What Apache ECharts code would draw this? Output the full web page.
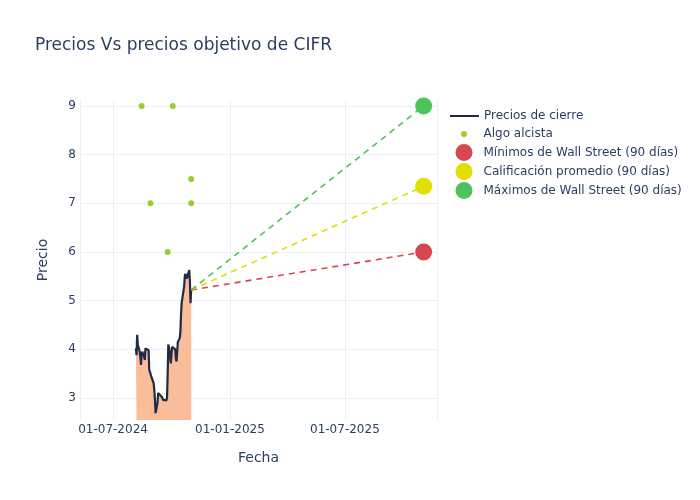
<!DOCTYPE html>
<html>
<head>
<meta charset="utf-8">
<script src="https://cdn.jsdelivr.net/npm/echarts@6/dist/echarts.min.js"></script>
<style>html,body{margin:0;padding:0;background:#fff}#c{width:700px;height:500px}</style>
</head>
<body>
<div id="c"></div>
<script>
// ---- data ----
var closeDates = ['2024-08-06','2024-08-07','2024-08-08','2024-08-09','2024-08-12','2024-08-13','2024-08-14','2024-08-15','2024-08-16',
  '2024-08-19','2024-08-20','2024-08-21','2024-08-22','2024-08-23','2024-08-26','2024-08-27','2024-08-28','2024-08-29','2024-08-30',
  '2024-09-03','2024-09-04','2024-09-05','2024-09-06','2024-09-09','2024-09-10','2024-09-11','2024-09-12','2024-09-13',
  '2024-09-16','2024-09-17','2024-09-18','2024-09-19','2024-09-20','2024-09-23','2024-09-24','2024-09-25','2024-09-26','2024-09-27',
  '2024-09-30','2024-10-01','2024-10-02','2024-10-03','2024-10-04','2024-10-07','2024-10-08','2024-10-09','2024-10-10','2024-10-11',
  '2024-10-14','2024-10-15','2024-10-16','2024-10-17','2024-10-18','2024-10-21','2024-10-22','2024-10-23','2024-10-24','2024-10-25',
  '2024-10-28','2024-10-29','2024-10-30','2024-10-31','2024-11-01'];
var closePrices = [4.02,3.88,4.30,4.10,3.95,3.85,3.68,3.90,3.95,
  3.85,3.78,4.02,3.99,4.02,3.98,3.58,3.58,3.50,3.45,
  3.30,3.16,2.96,2.69,2.90,3.10,3.10,3.08,3.10,
  3.02,2.98,2.96,2.92,2.93,2.95,3.00,3.50,4.10,4.05,
  3.71,3.90,4.05,4.05,4.08,4.00,3.80,3.75,3.72,4.15,
  4.23,4.35,4.70,4.95,4.98,5.30,5.50,5.55,5.53,5.45,
  5.58,5.63,5.40,4.95,5.22];
var algoDates = ['2024-08-15','2024-10-03','2024-08-29','2024-11-01','2024-11-01','2024-09-25'];
var algoValues = [9, 9, 7, 7.5, 7, 6];
var targetDate = '2025-11-02';
var targetLow = 6.0;
var targetAvg = 7.35;
var targetHigh = 9.0;
var xMin = '2024-05-10', xMax = '2025-11-23';
var yMin = 2.548, yMax = 9.123;

var lastDate = closeDates[closeDates.length - 1];
var lastPrice = closePrices[closePrices.length - 1];
function ts(s){ return new Date(s + 'T00:00:00Z').getTime(); }
function pad(n){ return (n < 10 ? '0' : '') + n; }

var TXT = '#2a3f5f', GRID = '#ebf0f8';
var cRed = '#d6474f', cYel = '#dfdf00', cGrn = '#4cc35b', cAlgo = '#9acd32', cLine = '#1f2a44';

var chart = echarts.init(document.getElementById('c'), null, {renderer: 'canvas'});
var font = 'DejaVu Sans, sans-serif';
var legText = {fontSize: 12, color: TXT, fontFamily: font};
chart.setOption({
  animation: false,
  backgroundColor: '#fff',
  textStyle: {fontFamily: font},
  title: {text: 'Precios Vs precios objetivo de CIFR', left: 30, top: 32,
    textStyle: {fontSize: 17, fontWeight: 'normal', color: TXT, fontFamily: font}},
  grid: {left: 80, right: 263, top: 100, bottom: 80, containLabel: false},
  legend: [
    {data: [{name: 'Precios de cierre', icon: 'rect', itemStyle: {color: cLine}}], orient: 'vertical', left: 450, top: 110, padding: 0,
      itemWidth: 29, itemHeight: 2, textStyle: legText},
    {data: [{name: 'Algo alcista', icon: 'circle'}], orient: 'vertical', left: 461, top: 128, padding: 0,
      itemWidth: 29, itemHeight: 6, textStyle: legText},
    {data: [{name: 'Mínimos de Wall Street (90 días)', icon: 'circle'}, {name: 'Calificación promedio (90 días)', icon: 'circle'}, {name: 'Máximos de Wall Street (90 días)', icon: 'circle'}],
      orient: 'vertical', left: 455.5, top: 144, itemGap: 2, padding: 0,
      itemWidth: 29, itemHeight: 17, textStyle: legText}
  ],
  xAxis: {
    type: 'time', min: ts(xMin), max: ts(xMax), splitNumber: 3,
    name: 'Fecha', nameLocation: 'middle', nameGap: 31,
    nameTextStyle: {fontSize: 14, color: TXT, fontFamily: font},
    axisLine: {show: false}, axisTick: {show: false},
    axisLabel: {fontSize: 12, color: TXT, margin: 4, fontFamily: font, hideOverlap: false,
      formatter: function(v){ var d = new Date(v); return pad(d.getUTCDate()) + '-' + pad(d.getUTCMonth()+1) + '-' + d.getUTCFullYear(); }},
    splitLine: {show: true, lineStyle: {color: GRID, width: 1}}
  },
  yAxis: {
    type: 'value', min: yMin, max: yMax,
    name: 'Precio', nameLocation: 'middle', nameGap: 30,
    nameTextStyle: {fontSize: 14, color: TXT, fontFamily: font},
    axisLine: {show: false}, axisTick: {show: false},
    axisLabel: {fontSize: 12, color: TXT, margin: 4, showMinLabel: false, showMaxLabel: false, fontFamily: font},
    splitLine: {show: true, showMinLine: false, showMaxLine: false, lineStyle: {color: GRID, width: 1}}
  },
  series: [
    {name: 'Precios de cierre', type: 'line', showSymbol: false, symbol: 'none',
      data: closeDates.map(function(d, i){ return [ts(d), closePrices[i]]; }),
      lineStyle: {color: cLine, width: 2.2}, itemStyle: {color: cLine},
      areaStyle: {color: '#fabd99', opacity: 1, origin: 'start'}, z: 2},
    {name: 'lowLine', type: 'line', symbol: 'none', data: [[ts(lastDate), lastPrice], [ts(targetDate), targetLow]],
      lineStyle: {color: cRed, width: 1.6, type: [6, 5]}, z: 3},
    {name: 'avgLine', type: 'line', symbol: 'none', data: [[ts(lastDate), lastPrice], [ts(targetDate), targetAvg]],
      lineStyle: {color: cYel, width: 1.6, type: [6, 5]}, z: 3},
    {name: 'highLine', type: 'line', symbol: 'none', data: [[ts(lastDate), lastPrice], [ts(targetDate), targetHigh]],
      lineStyle: {color: cGrn, width: 1.6, type: [6, 5]}, z: 3},
    {name: 'Algo alcista', type: 'scatter', symbolSize: 6,
      data: algoDates.map(function(d, i){ return [ts(d), algoValues[i]]; }),
      itemStyle: {color: cAlgo, opacity: 1}, z: 4},
    {name: 'Mínimos de Wall Street (90 días)', type: 'scatter', symbolSize: 17,
      data: [[ts(targetDate), targetLow]], itemStyle: {color: cRed, opacity: 1}, z: 5},
    {name: 'Calificación promedio (90 días)', type: 'scatter', symbolSize: 17,
      data: [[ts(targetDate), targetAvg]], itemStyle: {color: cYel, opacity: 1}, z: 5},
    {name: 'Máximos de Wall Street (90 días)', type: 'scatter', symbolSize: 17,
      data: [[ts(targetDate), targetHigh]], itemStyle: {color: cGrn, opacity: 1}, z: 5}
  ]
});
</script>
</body>
</html>
